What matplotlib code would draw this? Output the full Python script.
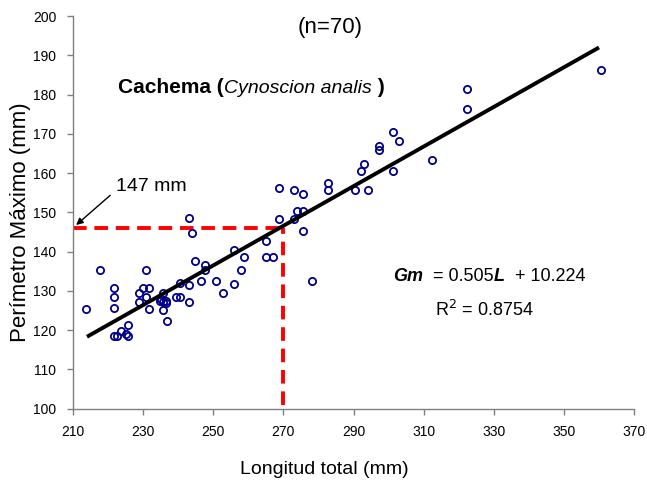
import matplotlib
matplotlib.use("Agg")
import matplotlib.pyplot as plt

longitud = [213.8, 217.6, 221.8, 221.8, 221.8, 221.8, 222.6, 223.7, 225.6, 225.6,
            228.8, 228.8, 229.9, 230.7, 230.8, 231.6, 231.6, 234.8, 235.6, 235.6,
            236.4, 235.6, 236.9, 239.4, 240.6, 240.6, 243.1, 243.1, 243.0, 243.8,
            244.9, 247.6, 247.6, 246.6, 250.9, 252.8, 256.0, 256.0, 257.9, 258.8,
            265.0, 265.0, 266.9, 268.8, 268.8, 272.9, 272.9, 273.8, 275.7, 275.7,
            275.7, 278.1, 282.7, 282.7, 290.4, 292.0, 293.1, 294.1, 297.2, 297.2,
            301.2, 303.0, 301.2, 312.3, 322.3, 322.3, 360.5, 235.0, 236.6, 225.0]
perimetro = [125.4, 135.3, 130.7, 128.3, 125.6, 118.4, 118.4, 119.7, 121.3, 118.4,
             129.4, 127.2, 130.8, 135.3, 128.3, 130.8, 125.4, 127.5, 129.4, 127.2,
             127.5, 125.1, 122.3, 128.3, 128.3, 131.9, 131.5, 127.2, 148.5, 144.7,
             137.6, 136.6, 135.3, 132.5, 132.5, 129.4, 131.7, 140.4, 135.3, 138.6,
             142.6, 138.6, 138.6, 156.2, 148.3, 155.6, 148.3, 150.4, 150.4, 154.6,
             145.3, 132.6, 157.4, 155.6, 155.6, 160.6, 162.4, 155.6, 166.8, 165.8,
             170.5, 168.3, 160.6, 163.4, 181.4, 176.4, 186.2, 128.0, 127.0, 119.0]

slope = 0.505
intercept = 10.224
fit_range = [214.0, 360.0]
x_ref = 270
y_ref = 146
xticks = list(range(210, 371, 20))
yticks = list(range(100, 201, 10))

font = "Liberation Sans"

fig = plt.figure(figsize=(6.47, 4.91), dpi=100)
ax = fig.add_axes([0.1128, 0.168, 0.8672, 0.799])

ax.plot(longitud, perimetro, linestyle="none", marker="o", markersize=5.2,
        markerfacecolor="none", markeredgecolor="#00008B", markeredgewidth=1.3, zorder=3)

fx = fit_range
fy = [slope * v + intercept for v in fx]
ax.plot(fx, fy, color="black", lw=2.8, solid_capstyle="butt", zorder=4)

ax.plot([210, x_ref], [y_ref, y_ref], color="#FF0000", lw=2.8, dashes=(3.5, 2), zorder=2)
ax.plot([x_ref, x_ref], [101, y_ref], color="#FF0000", lw=2.8, dashes=(3.5, 2), zorder=2)

ax.annotate("", xy=(210.3, 146.3), xytext=(221.2, 154.8),
            arrowprops=dict(arrowstyle="-|>", color="black", lw=1.0, mutation_scale=10))
ax.text(222.3, 156.6, "147 mm", fontsize=14, family=font, ha="left", va="center")

ax.set_xlim(210, 370)
ax.set_ylim(100, 200)
ax.set_xticks(xticks)
ax.set_yticks(yticks)
ax.tick_params(direction="out", length=4, width=1, colors="#808080", labelcolor="black", pad=8)
for lab in ax.get_xticklabels() + ax.get_yticklabels():
    lab.set_family(font)
    lab.set_fontsize(10)
for s in ["top", "right"]:
    ax.spines[s].set_visible(False)
for s in ["left", "bottom"]:
    ax.spines[s].set_color("#808080")
    ax.spines[s].set_linewidth(1)

fig.text(0.5008, 0.043, "Longitud total (mm)", family=font, fontsize=14,
         ha="center", va="center")
fig.text(0.031, 0.548, "Perímetro Máximo (mm)", rotation=90,
         family=font, fontsize=16, ha="center", va="center")

fig.text(0.51, 0.945, "(n=70)", family=font, fontsize=16, ha="center", va="center")

t1 = fig.text(118 / 647, 1 - 93 / 491, "Cachema (", family=font,
              fontsize=15, weight="bold", ha="left", va="baseline")
t2 = ax.annotate("Cynoscion analis", xy=(1, 0), xycoords=t1, family=font,
                 fontsize=14, style="italic", ha="left", va="bottom")
t3 = ax.annotate(" )", xy=(1, 0), xycoords=t2, family=font,
                 fontsize=15, weight="bold", ha="left", va="bottom")

e1 = fig.text(393 / 647, 1 - 281 / 491, "Gm", family=font, fontsize=13,
              weight="bold", style="italic", ha="left", va="baseline")
e2 = ax.annotate("  = 0.505", xy=(1, 0), xycoords=e1, family=font, fontsize=13,
                 ha="left", va="bottom")
e3 = ax.annotate("L", xy=(1, 0), xycoords=e2, family=font, fontsize=13,
                 weight="bold", style="italic", ha="left", va="bottom")
e4 = ax.annotate("  + 10.224", xy=(1, 0), xycoords=e3, family=font, fontsize=13,
                 ha="left", va="bottom")
fig.text(435 / 647, 1 - 316 / 491, r"R$^2$ = 0.8754", family=font,
         fontsize=13, ha="left", va="baseline")

fig.savefig("out.png", dpi=100)
